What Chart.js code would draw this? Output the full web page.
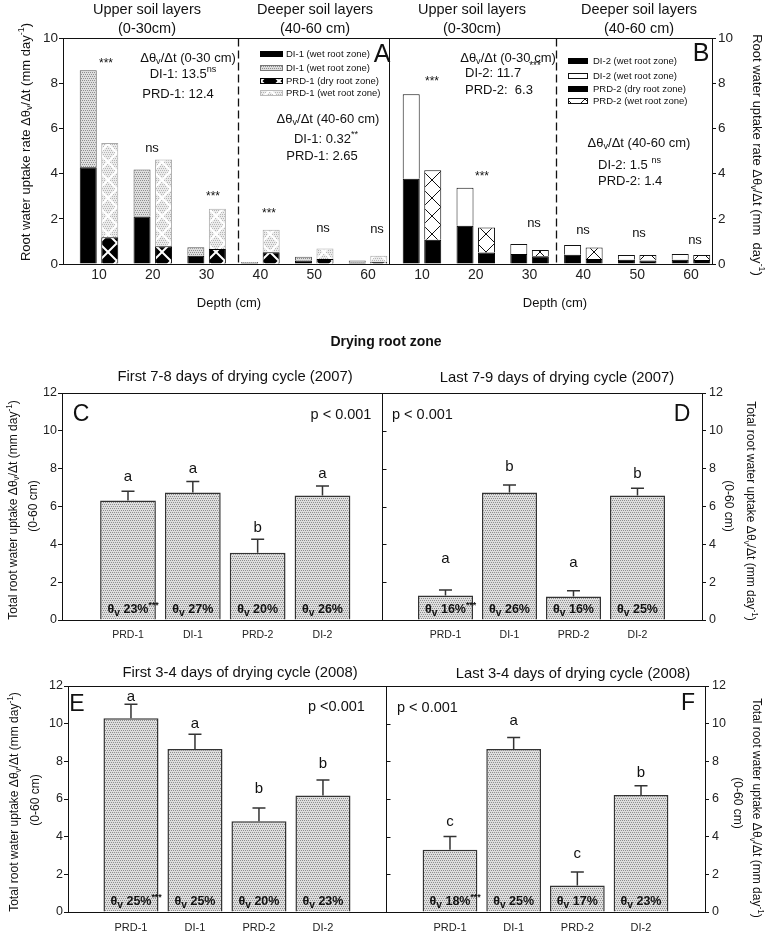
<!DOCTYPE html>
<html lang="en">
<head>
<meta charset="UTF-8">
<title>Root water uptake - drying root zone</title>
<script src="https://cdn.jsdelivr.net/npm/chart.js"></script>
<style>
  html, body { margin: 0; padding: 0; background: #fff; }
  #page { position: relative; width: 773px; height: 933px; overflow: hidden; }
  #page canvas { position: absolute; left: 0; top: 0; }
</style>
</head>
<body>
<div id="page">
  <canvas id="chartA" width="773" height="933"></canvas>
  <canvas id="chartB" width="773" height="933"></canvas>
  <canvas id="chartC" width="773" height="933"></canvas>
  <canvas id="chartD" width="773" height="933"></canvas>
  <canvas id="chartE" width="773" height="933"></canvas>
  <canvas id="chartF" width="773" height="933"></canvas>
</div>
<script>
// --- top panels: uptake rate by depth (mm/day) ---
const depths = [10, 20, 30, 40, 50, 60];
const di1Lower = [4.28, 2.10, 0.37, 0.04, 0.15, 0.07];
const di1Upper = [4.29, 2.08, 0.37, 0.05, 0.17, 0.08];
const prd1Dry  = [1.18, 0.78, 0.66, 0.52, 0.22, 0.10];
const prd1Wet  = [4.17, 3.84, 1.78, 1.00, 0.47, 0.27];
const di2Lower = [3.77, 1.69, 0.44, 0.41, 0.19, 0.19];
const di2Upper = [3.74, 1.68, 0.44, 0.43, 0.21, 0.25];
const prd2Dry  = [1.07, 0.51, 0.34, 0.22, 0.15, 0.18];
const prd2Wet  = [3.08, 1.10, 0.28, 0.51, 0.25, 0.22];

// --- lower panels: total uptake 0-60 cm ---
const treatments = ['PRD-1', 'DI-1', 'PRD-2', 'DI-2'];
const uptakeC = [6.32, 6.74, 3.56, 6.58];
const errC    = [0.49, 0.58, 0.71, 0.51];
const lettersC = ['a', 'a', 'b', 'a'];
const thetaC  = [23, 27, 20, 26];
const uptakeD = [1.29, 6.74, 1.24, 6.58];
const errD    = [0.30, 0.39, 0.30, 0.39];
const lettersD = ['a', 'b', 'a', 'b'];
const thetaD  = [16, 26, 16, 25];
const uptakeE = [10.29, 8.65, 4.82, 6.18];
const errE    = [0.74, 0.79, 0.70, 0.83];
const lettersE = ['a', 'a', 'b', 'b'];
const thetaE  = [25, 25, 20, 23];
const uptakeF = [3.30, 8.65, 1.41, 6.21];
const errF    = [0.71, 0.62, 0.71, 0.49];
const lettersF = ['c', 'a', 'c', 'b'];
const thetaF  = [18, 25, 17, 23];

const W = 773, H = 933, AXW = 40;
const FONT = '"Liberation Sans", Arial, Helvetica, sans-serif';
Chart.defaults.font.family = FONT;
Chart.defaults.color = '#222';

// fill patterns
function makePattern(size, paint) {
  const c = document.createElement('canvas');
  c.width = size; c.height = size;
  const g = c.getContext('2d');
  paint(g, size);
  return g.createPattern(c, 'repeat');
}
function dots(g, s, bg, dot) {
  g.fillStyle = bg; g.fillRect(0, 0, s, s);
  g.fillStyle = dot;
  for (let y = 0; y < s; y += 2)
    for (let x = (y % 4 === 0 ? 0 : 1); x < s; x += 2) g.fillRect(x, y, 1, 1);
}
function xLines(g, s, color, lw) {
  g.strokeStyle = color; g.lineWidth = lw;
  g.beginPath();
  for (const k of [-1, 0, 1]) {
    g.moveTo(-s, -s + k * s); g.lineTo(2 * s, 2 * s + k * s);
    g.moveTo(-s, 2 * s + k * s); g.lineTo(2 * s, -s + k * s);
  }
  g.stroke();
}
const stipple   = makePattern(4, (g, s) => dots(g, s, '#dedede', '#8e8e8e'));
const hatchDark = makePattern(18, (g, s) => { g.fillStyle = '#000'; g.fillRect(0, 0, s, s); xLines(g, s, '#fff', 2); });
const hatchGray = makePattern(18, (g, s) => { dots(g, s, '#ececec', '#b4b4b4'); xLines(g, s, '#fff', 2); });
const hatchOpen = makePattern(18, (g, s) => { g.fillStyle = '#fff'; g.fillRect(0, 0, s, s); xLines(g, s, '#111', 1); });

// rich text: _{sub} and ^{sup}
function parseRich(str) {
  const parts = [], re = /([_^])\{([^}]*)\}/g;
  let last = 0, m;
  while ((m = re.exec(str))) {
    if (m.index > last) parts.push([str.slice(last, m.index), '']);
    parts.push([m[2], m[1] === '_' ? 'sub' : 'sup']);
    last = re.lastIndex;
  }
  if (last < str.length) parts.push([str.slice(last), '']);
  return parts;
}
function fontOf(size, weight) { return (weight || 'normal') + ' ' + size + 'px ' + FONT; }
function drawNote(ctx, n) {
  const size = n.s || 13, parts = parseRich(n.t);
  const small = m => m === 'sub' ? size * (n.ss || 0.7) : m ? size * 0.7 : size;
  ctx.save();
  ctx.translate(n.x, n.y);
  if (n.r) ctx.rotate(n.r * Math.PI / 180);
  ctx.fillStyle = n.c || '#111';
  ctx.textAlign = 'left';
  ctx.textBaseline = 'alphabetic';
  const widths = parts.map(([t, m]) => { ctx.font = fontOf(small(m), n.w); return ctx.measureText(t).width; });
  const full = widths.reduce((p, q) => p + q, 0);
  const main = n.mainOnly ? parts.reduce((acc, [t, m], i) => m === 'sup' ? acc : acc + widths[i], 0) : full;
  let x = n.a === 'left' ? 0 : n.a === 'right' ? -full : -main / 2;
  parts.forEach(([t, m], i) => {
    ctx.font = fontOf(small(m), n.w);
    const dy = m === 'sub' ? size * 0.22 : m === 'sup' ? -size * 0.42 : 0;
    ctx.fillText(t, x, size * 0.35 + dy);
    x += widths[i];
  });
  ctx.restore();
}

// frame, dividers, error bars, letters, legends and text
function decor(cfg) {
  return {
    id: 'decor',
    afterDraw(chart) {
      const ctx = chart.ctx, a = chart.chartArea;
      const xs = chart.scales.x, ys = chart.scales.y;
      ctx.save();
      ctx.strokeStyle = '#111';
      ctx.lineWidth = 1;
      const L = Math.round(a.left) + 0.5, T = Math.round(a.top) + 0.5;
      const R = Math.round(a.right) + 0.5, B = Math.round(a.bottom) + 0.5;
      ctx.strokeRect(L, T, R - L, B - T);

      if (cfg.divider !== undefined) {
        const dx = Math.round(xs.getPixelForValue(cfg.divider)) + 0.5;
        ctx.setLineDash([8, 4]);
        ctx.lineWidth = 1.3;
        ctx.beginPath(); ctx.moveTo(dx, T); ctx.lineTo(dx, B); ctx.stroke();
        ctx.setLineDash([]);
        ctx.lineWidth = 1;
      }
      if (cfg.sideTicks) {
        ctx.beginPath();
        for (let v = 2; v < 12; v += 2) {
          const y = Math.round(ys.getPixelForValue(v)) + 0.5;
          ctx.moveTo(R, y); ctx.lineTo(R + 4, y);
        }
        ctx.stroke();
      }
      if (cfg.means) {
        ctx.strokeStyle = '#333';
        ctx.lineWidth = 1.5;
        cfg.means.forEach((v, i) => {
          const x = xs.getPixelForValue(i + 1);
          const y0 = ys.getPixelForValue(v), y1 = ys.getPixelForValue(v + cfg.errs[i]);
          ctx.beginPath();
          ctx.moveTo(x, y0); ctx.lineTo(x, y1);
          ctx.moveTo(x - 6.5, y1); ctx.lineTo(x + 6.5, y1);
          ctx.stroke();
          drawNote(ctx, { t: cfg.letters[i], x: x, y: y1 - cfg.lift[i], s: 15 });
          const theta = '\u03b8_{v} ' + cfg.theta[i] + '%' + (i === 0 ? '^{***}' : '');
          drawNote(ctx, { t: theta, x: x, y: ys.getPixelForValue(0) - 11, s: 12.5, ss: 0.82, w: 'bold', mainOnly: true });
        });
      }
      if (cfg.legend) {
        const lg = cfg.legend;
        ctx.lineWidth = 1;
        lg.rows.forEach(([y, fill, stroke, label]) => {
          ctx.fillStyle = fill;
          ctx.fillRect(lg.x, y - lg.h / 2, lg.w, lg.h);
          ctx.strokeStyle = stroke;
          ctx.strokeRect(lg.x + 0.5, y - lg.h / 2 + 0.5, lg.w - 1, lg.h - 1);
          drawNote(ctx, { t: label, x: lg.tx, y: y, s: 9.5, a: 'left' });
        });
      }
      (cfg.notes || []).forEach(n => drawNote(ctx, n));
      ctx.restore();
    }
  };
}

function pad(area, yPos, xH) {
  return {
    left: area[0] - (yPos === 'left' ? AXW : 0),
    top: area[1],
    right: W - area[2] - (yPos === 'right' ? AXW : 0),
    bottom: H - area[3] - xH
  };
}

function depthChart(id, o) {
  return new Chart(document.getElementById(id), {
    type: 'bar',
    data: { labels: depths, datasets: o.datasets },
    options: {
      responsive: false,
      animation: false,
      layout: { autoPadding: false, padding: pad(o.area, o.yPos, 24) },
      plugins: { legend: { display: false }, tooltip: { enabled: false } },
      datasets: { bar: { categoryPercentage: 0.8, barPercentage: 0.79 } },
      scales: {
        x: {
          type: 'linear', min: o.xMin, max: o.xMax, offset: false,
          afterBuildTicks: s => { s.ticks = depths.map(v => ({ value: v })); },
          grid: { display: false, drawTicks: false, offset: false },
          border: { display: false },
          ticks: { font: { size: 14 }, padding: 3, maxRotation: 0, autoSkip: false },
          afterFit: s => { s.height = 24; }
        },
        y: {
          position: o.yPos, stacked: true, min: 0, max: 10,
          ticks: { stepSize: 2, font: { size: 13.5 }, padding: o.yPos === 'left' ? 1 : 2 },
          grid: { drawOnChartArea: false, tickLength: 4, color: '#111' },
          border: { display: false },
          afterFit: s => { s.width = AXW; }
        }
      }
    },
    plugins: [decor(o.decor)]
  });
}

function totalChart(id, o) {
  return new Chart(document.getElementById(id), {
    type: 'bar',
    data: {
      datasets: [{
        data: o.means.map((v, i) => ({ x: i + 1, y: v })),
        backgroundColor: stipple, borderColor: '#333', borderWidth: 1.5,
        categoryPercentage: 1, barPercentage: 0.86
      }]
    },
    options: {
      responsive: false,
      animation: false,
      layout: { autoPadding: false, padding: pad(o.area, o.yPos, o.xH) },
      plugins: { legend: { display: false }, tooltip: { enabled: false } },
      scales: {
        x: {
          type: 'linear', min: o.xMin, max: o.xMax, offset: false,
          afterBuildTicks: s => { s.ticks = treatments.map((t, i) => ({ value: i + 1 })); },
          grid: { display: false, drawTicks: false, offset: false },
          border: { display: false },
          ticks: { callback: v => treatments[v - 1], font: { size: o.xFont }, padding: o.xPad, maxRotation: 0, autoSkip: false },
          afterFit: s => { s.height = o.xH; }
        },
        y: {
          position: o.yPos, min: 0, max: 12,
          ticks: { stepSize: 2, font: { size: 12.5 }, padding: o.yPos === 'left' ? 1 : 3 },
          grid: { drawOnChartArea: false, tickLength: 4, color: '#111' },
          border: { display: false },
          afterFit: s => { s.width = AXW; }
        }
      }
    },
    plugins: [decor(Object.assign({ means: o.means, errs: o.errs, letters: o.letters, theta: o.theta, lift: o.lift }, o.decor))]
  });
}

const rateTitle = 'Root water uptake rate \u0394\u03b8_{v}/\u0394t (mm day^{-1})';
const totalTitle = 'Total root water uptake \u0394\u03b8_{v}/\u0394t (mm day^{-1})';

depthChart('chartA', {
  area: [63, 38, 389, 264], yPos: 'left', xMin: 3.31, xMax: 63.9,
  datasets: [
    { label: 'DI-1 (wet root zone)', data: di1Lower, stack: 'DI', backgroundColor: '#000', borderColor: '#000', borderWidth: 1 },
    { label: 'DI-1 (wet root zone)', data: di1Upper, stack: 'DI', backgroundColor: stipple, borderColor: '#555', borderWidth: 1 },
    { label: 'PRD-1 (dry root zone)', data: prd1Dry, stack: 'PRD', backgroundColor: hatchDark, borderColor: '#000', borderWidth: 1 },
    { label: 'PRD-1 (wet root zone)', data: prd1Wet, stack: 'PRD', backgroundColor: hatchGray, borderColor: '#aaa', borderWidth: 1 }
  ],
  decor: {
    divider: 35.8,
    legend: { x: 260, w: 23, h: 6, tx: 286, rows: [
      [54, '#000', '#000', 'DI-1 (wet root zone)'],
      [68, stipple, '#777', 'DI-1 (wet root zone)'],
      [81, hatchDark, '#000', 'PRD-1 (dry root zone)'],
      [93, hatchGray, '#bbb', 'PRD-1 (wet root zone)']
    ] },
    notes: [
      { t: 'Upper soil layers', x: 147, y: 9, s: 14.5 },
      { t: '(0-30cm)', x: 147, y: 28, s: 14.5 },
      { t: 'Deeper soil layers', x: 315, y: 9, s: 14.5 },
      { t: '(40-60 cm)', x: 315, y: 28, s: 14.5 },
      { t: '\u0394\u03b8_{v}/\u0394t (0-30 cm)', x: 188, y: 57 },
      { t: 'DI-1: 13.5^{ns}', x: 183, y: 73 },
      { t: 'PRD-1: 12.4', x: 178, y: 93 },
      { t: 'A', x: 382, y: 53, s: 25 },
      { t: '\u0394\u03b8_{v}/\u0394t (40-60 cm)', x: 328, y: 118 },
      { t: 'DI-1: 0.32^{**}', x: 326, y: 138 },
      { t: 'PRD-1: 2.65', x: 322, y: 155 },
      { t: '***', x: 106, y: 63, s: 12 },
      { t: 'ns', x: 152, y: 147 },
      { t: '***', x: 213, y: 196, s: 12 },
      { t: '***', x: 269, y: 213, s: 12 },
      { t: 'ns', x: 323, y: 227 },
      { t: 'ns', x: 377, y: 228 },
      { t: 'Depth (cm)', x: 229, y: 302 },
      { t: rateTitle, x: 25, y: 142, r: -90 }
    ]
  }
});

depthChart('chartB', {
  area: [389, 38, 712, 264], yPos: 'right', xMin: 3.87, xMax: 63.91,
  datasets: [
    { label: 'DI-2 (wet root zone)', data: di2Lower, stack: 'DI', backgroundColor: '#000', borderColor: '#000', borderWidth: 1 },
    { label: 'DI-2 (wet root zone)', data: di2Upper, stack: 'DI', backgroundColor: '#fff', borderColor: '#111', borderWidth: 1 },
    { label: 'PRD-2 (dry root zone)', data: prd2Dry, stack: 'PRD', backgroundColor: '#000', borderColor: '#000', borderWidth: 1 },
    { label: 'PRD-2 (wet root zone)', data: prd2Wet, stack: 'PRD', backgroundColor: hatchOpen, borderColor: '#111', borderWidth: 1 }
  ],
  decor: {
    divider: 35,
    legend: { x: 568, w: 20, h: 6, tx: 593, rows: [
      [61, '#000', '#000', 'DI-2 (wet root zone)'],
      [76, '#fff', '#111', 'DI-2 (wet root zone)'],
      [89, '#000', '#000', 'PRD-2 (dry root zone)'],
      [101, hatchOpen, '#111', 'PRD-2 (wet root zone)']
    ] },
    notes: [
      { t: 'Upper soil layers', x: 472, y: 9, s: 14.5 },
      { t: '(0-30cm)', x: 472, y: 28, s: 14.5 },
      { t: 'Deeper soil layers', x: 639, y: 9, s: 14.5 },
      { t: '(40-60 cm)', x: 639, y: 28, s: 14.5 },
      { t: '\u0394\u03b8_{v}/\u0394t (0-30 cm)', x: 508, y: 57 },
      { t: '***', x: 535, y: 65, s: 10 },
      { t: 'DI-2: 11.7', x: 465, y: 72, a: 'left' },
      { t: 'PRD-2:  6.3', x: 465, y: 89, a: 'left' },
      { t: 'B', x: 701, y: 52, s: 25 },
      { t: '\u0394\u03b8_{v}/\u0394t (40-60 cm)', x: 639, y: 142 },
      { t: 'DI-2: 1.5 ^{ns}', x: 598, y: 164, a: 'left' },
      { t: 'PRD-2: 1.4', x: 598, y: 180, a: 'left' },
      { t: '***', x: 432, y: 81, s: 12 },
      { t: '***', x: 482, y: 176, s: 12 },
      { t: 'ns', x: 534, y: 222 },
      { t: 'ns', x: 583, y: 229 },
      { t: 'ns', x: 639, y: 232 },
      { t: 'ns', x: 695, y: 239 },
      { t: 'Depth (cm)', x: 555, y: 302 },
      { t: 'Root water uptake rate \u0394\u03b8_{v}/\u0394t (mm  day^{-1})', x: 758, y: 155, r: 90 }
    ]
  }
});

totalChart('chartC', {
  area: [62, 393, 382, 620], yPos: 'left', xMin: -0.018, xMax: 4.918, xH: 24, xFont: 10.5, xPad: 9,
  means: uptakeC, errs: errC, letters: lettersC, theta: thetaC, lift: [15, 14, 12, 13],
  decor: {
    sideTicks: true,
    notes: [
      { t: 'Drying root zone', x: 386, y: 341, s: 14, w: 'bold' },
      { t: 'First 7-8 days of drying cycle (2007)', x: 235, y: 376, s: 14.8 },
      { t: 'C', x: 81, y: 413, s: 23 },
      { t: 'p < 0.001', x: 341, y: 414, s: 14.5 },
      { t: totalTitle, x: 12.5, y: 510, s: 12, r: -90 },
      { t: '(0-60 cm)', x: 33, y: 506, s: 12, r: -90 }
    ]
  }
});

totalChart('chartD', {
  area: [382, 393, 702, 620], yPos: 'right', xMin: 0.008, xMax: 5.008, xH: 24, xFont: 10.5, xPad: 9,
  means: uptakeD, errs: errD, letters: lettersD, theta: thetaD, lift: [32, 19, 29, 15],
  decor: {
    notes: [
      { t: 'Last 7-9 days of drying cycle (2007)', x: 557, y: 377, s: 14.8 },
      { t: 'p < 0.001', x: 392, y: 414, s: 14.5, a: 'left' },
      { t: 'D', x: 682, y: 413, s: 23 },
      { t: totalTitle, x: 751, y: 511, s: 12, r: 90 },
      { t: '(0-60 cm)', x: 729, y: 506, s: 12, r: 90 }
    ]
  }
});

totalChart('chartE', {
  area: [68, 686, 386, 912], yPos: 'left', xMin: 0.016, xMax: 4.985, xH: 20, xFont: 11, xPad: 9,
  means: uptakeE, errs: errE, letters: lettersE, theta: thetaE, lift: [9, 11, 20, 17],
  decor: {
    sideTicks: true,
    notes: [
      { t: 'First 3-4 days of drying cycle (2008)', x: 240, y: 672, s: 14.8 },
      { t: 'E', x: 77, y: 703, s: 23 },
      { t: 'p <0.001', x: 308, y: 706, s: 14.5, a: 'left' },
      { t: totalTitle, x: 14, y: 802, s: 12, r: -90 },
      { t: '(0-60 cm)', x: 35, y: 800, s: 12, r: -90 }
    ]
  }
});

totalChart('chartF', {
  area: [386, 686, 705, 912], yPos: 'right', xMin: -0.005, xMax: 5.005, xH: 20, xFont: 11, xPad: 9,
  means: uptakeF, errs: errF, letters: lettersF, theta: thetaF, lift: [16, 18, 19, 14],
  decor: {
    notes: [
      { t: 'Last 3-4 days of drying cycle (2008)', x: 573, y: 673, s: 14.8 },
      { t: 'p < 0.001', x: 397, y: 707, s: 14.5, a: 'left' },
      { t: 'F', x: 688, y: 702, s: 23 },
      { t: totalTitle, x: 757, y: 808, s: 12, r: 90 },
      { t: '(0-60 cm)', x: 738, y: 803, s: 12, r: 90 }
    ]
  }
});
</script>
</body>
</html>
